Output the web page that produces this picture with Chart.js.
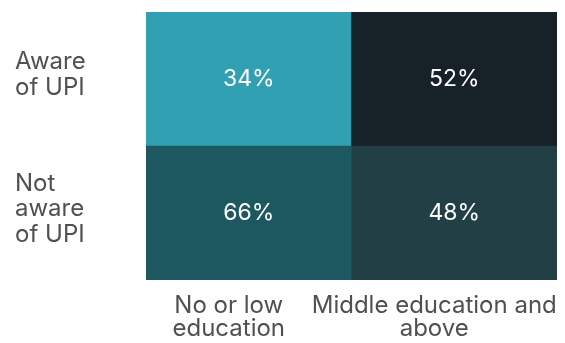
<!DOCTYPE html>
<html>
<head>
<meta charset="utf-8">
<script src="https://cdn.jsdelivr.net/npm/chart.js@4.4.1/dist/chart.umd.min.js"></script>
<style>
  html, body { margin: 0; padding: 0; background: #fff; }
  #wrap { width: 565px; height: 343px; }
</style>
</head>
<body>
<div id="wrap"><canvas id="heatmap"></canvas></div>
<script>
// categories
const columns = [['No or low', 'education'], ['Middle education and', 'above']];
const rows = [['Aware', 'of UPI'], ['Not', 'aware', 'of UPI']];

// share of each group (%)
const aware = [34, 52];
const notAware = [66, 48];

// cell colours (per row, per column)
const awareColors = ['#31a0b3', '#162228'];
const notAwareColors = ['#1d5861', '#233f46'];

// every cell gets the same height, the percentage is written inside it
const cell = arr => arr.map(() => 1);

// draws the percentage in the middle of each cell
const cellLabels = {
  id: 'cellLabels',
  afterDatasetsDraw(chart) {
    const ctx = chart.ctx;
    ctx.save();
    ctx.fillStyle = '#ffffff';
    ctx.font = '23px Inter';
    ctx.textAlign = 'center';
    ctx.textBaseline = 'middle';
    chart.data.datasets.forEach((ds, i) => {
      chart.getDatasetMeta(i).data.forEach((bar, j) => {
        const p = bar.getProps(['x', 'y', 'base'], true);
        ctx.fillText(ds.pct[j] + '%', p.x, (p.y + p.base) / 2);
      });
    });
    ctx.restore();
  }
};

new Chart(document.getElementById('heatmap'), {
  type: 'bar',
  data: {
    labels: columns,
    datasets: [
      {
        label: 'Not aware of UPI',
        data: cell(notAware),
        pct: notAware,
        backgroundColor: notAwareColors
      },
      {
        label: 'Aware of UPI',
        data: cell(aware),
        pct: aware,
        backgroundColor: awareColors
      }
    ]
  },
  options: {
    responsive: true,
    maintainAspectRatio: false,
    animation: false,
    layout: { padding: { left: 15, right: 8, top: 12, bottom: 0 } },
    datasets: {
      bar: { categoryPercentage: 1, barPercentage: 1, borderWidth: 0 }
    },
    plugins: {
      legend: { display: false },
      tooltip: { enabled: false }
    },
    scales: {
      x: {
        stacked: true,
        grid: { display: false },
        border: { display: false },
        ticks: {
          color: '#505050',
          font: { family: 'Inter', size: 24, lineHeight: 0.96 },
          maxRotation: 0,
          autoSkip: false,
          padding: 6,
          labelOffset: -20
        },
        afterFit(scale) {
          scale.height = 63;
          scale.paddingLeft = 0;
          scale.paddingRight = 0;
        }
      },
      y: {
        stacked: true,
        display: false,
        min: 0,
        max: 2
      },
      rows: {
        type: 'category',
        labels: rows,
        position: 'left',
        offset: true,
        grid: { display: false },
        border: { display: false },
        ticks: {
          color: '#505050',
          crossAlign: 'far',
          font: { family: 'Inter', size: 24, lineHeight: 1.06 },
          labelOffset: -4
        },
        afterFit(scale) {
          scale.width = 131;
          scale.paddingTop = 0;
          scale.paddingBottom = 0;
        }
      }
    }
  },
  plugins: [cellLabels]
});
</script>
</body>
</html>
